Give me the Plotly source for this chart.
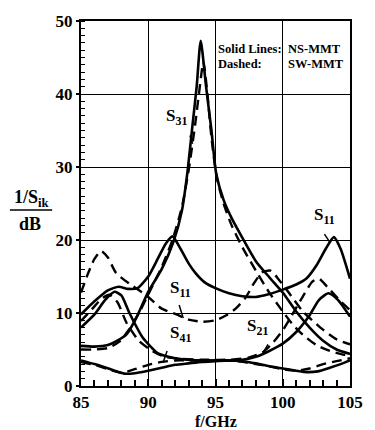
import plotly.graph_objects as go

# ---- data ----
s11_ns_x = [85, 86, 87, 87.8, 88.5, 89.2, 90, 90.7, 91.3, 91.8, 92.4, 93, 93.5, 94.2, 95, 96, 97, 98, 99, 100, 101, 101.8, 102.5, 103.2, 103.8, 104.3, 105]
s11_ns_y = [9.8, 11.6, 13.1, 13.6, 13.3, 13.4, 15.0, 17.4, 19.5, 20.5, 18.8, 16.8, 15.5, 14.2, 13.4, 12.7, 12.3, 12.2, 12.6, 13.2, 13.9, 14.8, 16.5, 18.8, 20.4, 18.8, 14.7]

s11_sw_x = [85, 85.5, 86, 86.5, 87, 87.6, 88.6, 89.8, 91, 92.1, 93, 94, 95, 95.8, 96.5, 97.2, 97.9, 98.5, 99.1, 99.7, 100.4, 101.5, 102.8, 104, 105]
s11_sw_y = [12.8, 15.3, 17.4, 18.5, 17.6, 15.5, 14.0, 12.5, 10.6, 9.8, 9.1, 8.8, 9.0, 9.7, 10.6, 12.0, 14.2, 15.6, 15.8, 14.6, 12.9, 10.2, 8.0, 6.4, 5.7]

s21_ns_x = [85, 86, 86.8, 87.5, 88, 88.6, 89.6, 90.7, 91.5, 92.4, 94, 96, 97, 98, 99, 100, 101, 102, 102.7, 103.4, 104.1, 105]
s21_ns_y = [8.0, 9.8, 11.8, 12.9, 12.4, 10.0, 6.6, 4.5, 4.0, 3.7, 3.5, 3.5, 3.6, 4.0, 4.8, 5.8, 7.4, 9.7, 11.8, 12.7, 11.8, 9.5]

s21_sw_x = [85, 85.8, 86.5, 87.1, 87.7, 88.4, 89.3, 90.3, 91.2, 92.5, 94, 96, 97.5, 98.5, 99.3, 100.1, 100.9, 101.6, 102.2, 102.7, 103.3, 104.3, 105]
s21_sw_y = [8.9, 10.5, 11.9, 12.5, 11.5, 8.6, 6.2, 4.8, 4.0, 3.7, 3.6, 3.6, 3.9, 4.6, 6.0, 7.9, 10.4, 12.6, 14.3, 14.7, 13.6, 11.6, 10.4]

s31_ns_x = [85, 86, 87, 87.7, 88.4, 89.1, 90, 91, 91.9, 92.5, 92.9, 93.3, 93.6, 93.9, 94.3, 94.7, 95.05, 95.6, 96.2, 97, 98, 99, 100, 101, 102, 103, 104, 105]
s31_ns_y = [5.5, 5.4, 5.6, 6.2, 7.1, 9.3, 12.9, 16.0, 19.9, 24.0, 29.1, 35.9, 41.0, 47.3, 41.0, 35.0, 29.1, 25.5, 23.0, 20.3, 17.1, 14.9, 12.8, 10.2, 8.0, 6.2, 5.0, 4.4]

s31_sw_x = [85, 86, 87, 87.8, 88.6, 89.4, 90.2, 91, 91.8, 92.5, 93, 93.5, 93.8, 94.1, 94.4, 94.7, 95.1, 95.6, 96.2, 97, 98, 99, 100, 100.8, 101.5, 102.5, 103.5, 104.5, 105]
s31_sw_y = [5.0, 5.0, 5.2, 6.0, 7.8, 10.3, 13.3, 16.3, 20.0, 24.5, 29.5, 36.0, 40.5, 44.4, 40.0, 34.0, 28.5, 25.0, 22.0, 19.0, 15.8, 12.8, 10.2, 8.3, 7.0, 5.6, 4.8, 4.3, 4.2]

s41_ns_x = [85, 86, 86.7, 87.5, 88.2, 89, 90, 91, 92, 93, 94, 95, 96, 97, 98, 99, 100, 101, 101.8, 102.6, 103.5, 104.3, 105]
s41_ns_y = [3.5, 3.0, 2.6, 2.1, 1.7, 1.75, 2.1, 2.5, 2.9, 3.1, 3.3, 3.4, 3.5, 3.4, 3.1, 2.7, 2.4, 2.1, 1.9, 2.0, 2.5, 3.0, 3.5]

s41_sw_x = [85, 86, 87, 88, 89, 90, 91, 92, 93, 94, 95, 96, 97, 98, 99, 100, 101, 102, 103, 104, 105]
s41_sw_y = [3.3, 2.9, 2.3, 1.8, 2.3, 2.9, 3.3, 3.5, 3.5, 3.5, 3.5, 3.5, 3.3, 3.0, 2.7, 2.3, 2.1, 2.4, 3.0, 3.4, 3.8]

x_ticks = [85, 90, 95, 100, 105]
y_ticks = [0, 10, 20, 30, 40, 50]

FONT = "Liberation Serif, Times New Roman, serif"
solid = dict(color="black", width=2.6)
dashed = dict(color="black", width=2.4, dash="10px,6px")

W, H = 375, 430
ML, MR, MT, MB = 81, 14, 15, 44
PW, PH = W - ML - MR, H - MT - MB


def px2paper(px, py):
    return (px - ML) / PW, (H - MB - py) / PH


fig = go.Figure()
for xs, ys, ln in [
    (s11_ns_x, s11_ns_y, solid), (s11_sw_x, s11_sw_y, dashed),
    (s21_ns_x, s21_ns_y, solid), (s21_sw_x, s21_sw_y, dashed),
    (s31_ns_x, s31_ns_y, solid), (s31_sw_x, s31_sw_y, dashed),
    (s41_ns_x, s41_ns_y, solid), (s41_sw_x, s41_sw_y, dashed),
]:
    fig.add_trace(go.Scatter(x=xs, y=ys, mode="lines",
                             line=dict(shape="spline", smoothing=0.6, **ln),
                             showlegend=False, hoverinfo="skip"))

axis_common = dict(
    showline=True, linecolor="black", linewidth=2, mirror=True,
    showgrid=True, gridcolor="black", gridwidth=1.3,
    tickwidth=2, tickcolor="black",
    tickfont=dict(family=FONT, size=17, color="black", weight="bold"),
    zeroline=False,
)
fig.update_xaxes(range=[85, 105], tickvals=x_ticks, ticktext=["<b>%d</b>" % v for v in x_ticks],
                 ticks="inside", ticklen=7,
                 minor=dict(ticks="inside", dtick=1, tick0=85, ticklen=6, tickwidth=1.5,
                            tickcolor="black", showgrid=False),
                 **axis_common)
fig.update_yaxes(range=[0, 50], tickvals=y_ticks, ticktext=["<b>%d</b>" % v for v in y_ticks],
                 ticks="outside", ticklen=3,
                 minor=dict(ticks="inside", dtick=1, tick0=0, ticklen=4, tickwidth=1.2,
                            tickcolor="black", showgrid=False),
                 **axis_common)


def lab(text, x, y, size=17):
    fig.add_annotation(x=x, y=y, xref="x", yref="y", text="<b>%s</b>" % text, showarrow=False,
                       font=dict(family=FONT, size=size, color="black", weight="bold"))


lab("S<sub>31</sub>", 92.1, 36.8)
lab("S<sub>11</sub>", 103.1, 23.3)
lab("S<sub>11</sub>", 92.4, 13.3)
lab("S<sub>41</sub>", 92.4, 7.1)
lab("S<sub>21</sub>", 98.1, 8.1)

for x0, y0, x1, y1 in [(93.1, 34.3, 93.3, 33.2), (103.1, 20.8, 103.5, 19.7),
                       (92.3, 11.1, 92.6, 9.3), (91.4, 4.8, 91.1, 3.2),
                       (98.9, 5.7, 98.5, 4.4)]:
    fig.add_shape(type="line", x0=x0, y0=y0, x1=x1, y1=y1, xref="x", yref="y",
                  line=dict(color="black", width=1.5))


def ptext(txt, px, py, size, anchor="left"):
    xp, yp = px2paper(px, py)
    fig.add_annotation(x=xp, y=yp, xref="paper", yref="paper",
                       xanchor=anchor, yanchor="middle", text="<b>%s</b>" % txt, showarrow=False,
                       font=dict(family=FONT, size=size, color="black", weight="bold"))


# legend text
ptext("Solid Lines:", 222, 43, 12.5)
ptext("NS-MMT", 294, 43, 12.5)
ptext("Dashed:", 222, 59, 12.5)
ptext("SW-MMT", 294, 59, 12.5)

# y-axis title as fraction
ptext("1/S<sub>ik</sub>", 29, 195, 18, "center")
x0p, y0p = px2paper(7, 207)
x1p, _ = px2paper(51, 207)
fig.add_shape(type="line", xref="paper", yref="paper", x0=x0p, x1=x1p, y0=y0p, y1=y0p,
              line=dict(color="black", width=1.5))
ptext("dB", 28, 221, 18, "center")
# x-axis title
ptext("f/GHz", 221, 422, 16, "center")

fig.update_layout(width=W, height=H, margin=dict(l=ML, r=MR, t=MT, b=MB),
                  plot_bgcolor="white", paper_bgcolor="white")
fig.write_html("out.html")
